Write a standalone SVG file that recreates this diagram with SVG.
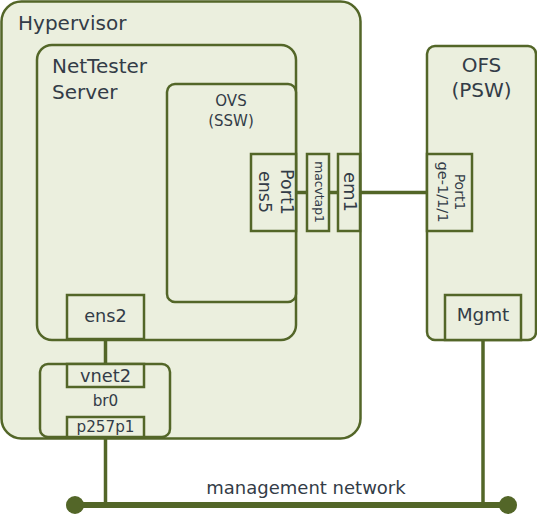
<svg xmlns="http://www.w3.org/2000/svg" width="537" height="515" viewBox="0 0 537 515">
<style>
.box{fill:#ebefde;stroke:#536628;stroke-width:2.5}
.ln{stroke:#536628;stroke-width:3.5;fill:none}
text{font-family:"DejaVu Sans","Liberation Sans",sans-serif;fill:#333c47}
.c{text-anchor:middle}
.v{text-anchor:middle;dominant-baseline:central}
</style>
<rect width="537" height="515" fill="#ffffff"/>
<g id="hypervisor">
<rect class="box" x="1.5" y="1.5" width="359" height="437" rx="20"/>
<text x="18" y="30" font-size="20">Hypervisor</text>
</g>
<g id="nettester">
<rect class="box" x="37" y="45" width="259" height="295" rx="15"/>
<text x="52" y="73" font-size="20">NetTester</text>
<text x="52" y="99" font-size="20">Server</text>
</g>
<g id="ovs">
<rect class="box" x="167" y="84" width="129" height="218" rx="8"/>
<text class="c" x="231" y="106" font-size="15">OVS</text>
<text class="c" x="231" y="126" font-size="15">(SSW)</text>
</g>
<g id="port1-ens5">
<rect class="box" x="251" y="154" width="45" height="77"/>
<text class="v" transform="translate(287,192) rotate(90)" font-size="17.5">Port1</text>
<text class="v" transform="translate(265,192) rotate(90)" font-size="17.5">ens5</text>
</g>
<g id="macvtap1">
<rect class="box" x="307" y="154" width="22" height="77"/>
<text class="v" transform="translate(318.5,192) rotate(90)" font-size="12.3">macvtap1</text>
</g>
<g id="em1">
<rect class="box" x="338" y="154" width="22" height="77"/>
<text class="v" transform="translate(350,192) rotate(90)" font-size="18">em1</text>
</g>
<g id="ens2">
<rect class="box" x="67" y="295" width="77" height="44"/>
<text class="c" x="105.5" y="322" font-size="17.7">ens2</text>
</g>
<g id="br0">
<rect class="box" x="40" y="364" width="130" height="73" rx="8"/>
<text class="c" x="105.5" y="406" font-size="15.2">br0</text>
</g>
<g id="vnet2">
<rect class="box" x="67" y="364" width="77" height="23"/>
<text class="c" x="105.5" y="382" font-size="17.8">vnet2</text>
</g>
<g id="p257p1">
<rect class="box" x="67" y="417" width="77" height="20"/>
<text class="c" x="105.5" y="432" font-size="15.2">p257p1</text>
</g>
<g id="ofs">
<rect class="box" x="427" y="46" width="109" height="294" rx="8"/>
<text class="c" x="481.5" y="72" font-size="20">OFS</text>
<text class="c" x="481.5" y="97" font-size="20">(PSW)</text>
</g>
<g id="ofs-port1">
<rect class="box" x="427" y="154" width="45" height="77"/>
<text class="v" transform="translate(460,192) rotate(90)" font-size="14">Port1</text>
<text class="v" transform="translate(442.5,192) rotate(90)" font-size="14.5">ge-1/1/1</text>
</g>
<g id="mgmt">
<rect class="box" x="445" y="295" width="76" height="45"/>
<text class="c" x="483" y="321" font-size="18.4">Mgmt</text>
</g>
<g id="connectors">
<line class="ln" x1="296" y1="192.5" x2="307" y2="192.5"/>
<line class="ln" x1="329" y1="192.5" x2="338" y2="192.5"/>
<line class="ln" x1="360" y1="192.5" x2="427" y2="192.5"/>
<line class="ln" x1="105.5" y1="339" x2="105.5" y2="364"/>
<line class="ln" x1="105.5" y1="438" x2="105.5" y2="505"/>
<line class="ln" x1="483" y1="340" x2="483" y2="505"/>
<line stroke="#536628" stroke-width="6" x1="75" y1="505" x2="508" y2="505"/>
<circle cx="75" cy="505" r="9" fill="#536628"/>
<circle cx="508" cy="505" r="9" fill="#536628"/>
</g>
<g id="network-label">
<text class="c" x="306" y="494" font-size="18">management network</text>
</g>
</svg>
